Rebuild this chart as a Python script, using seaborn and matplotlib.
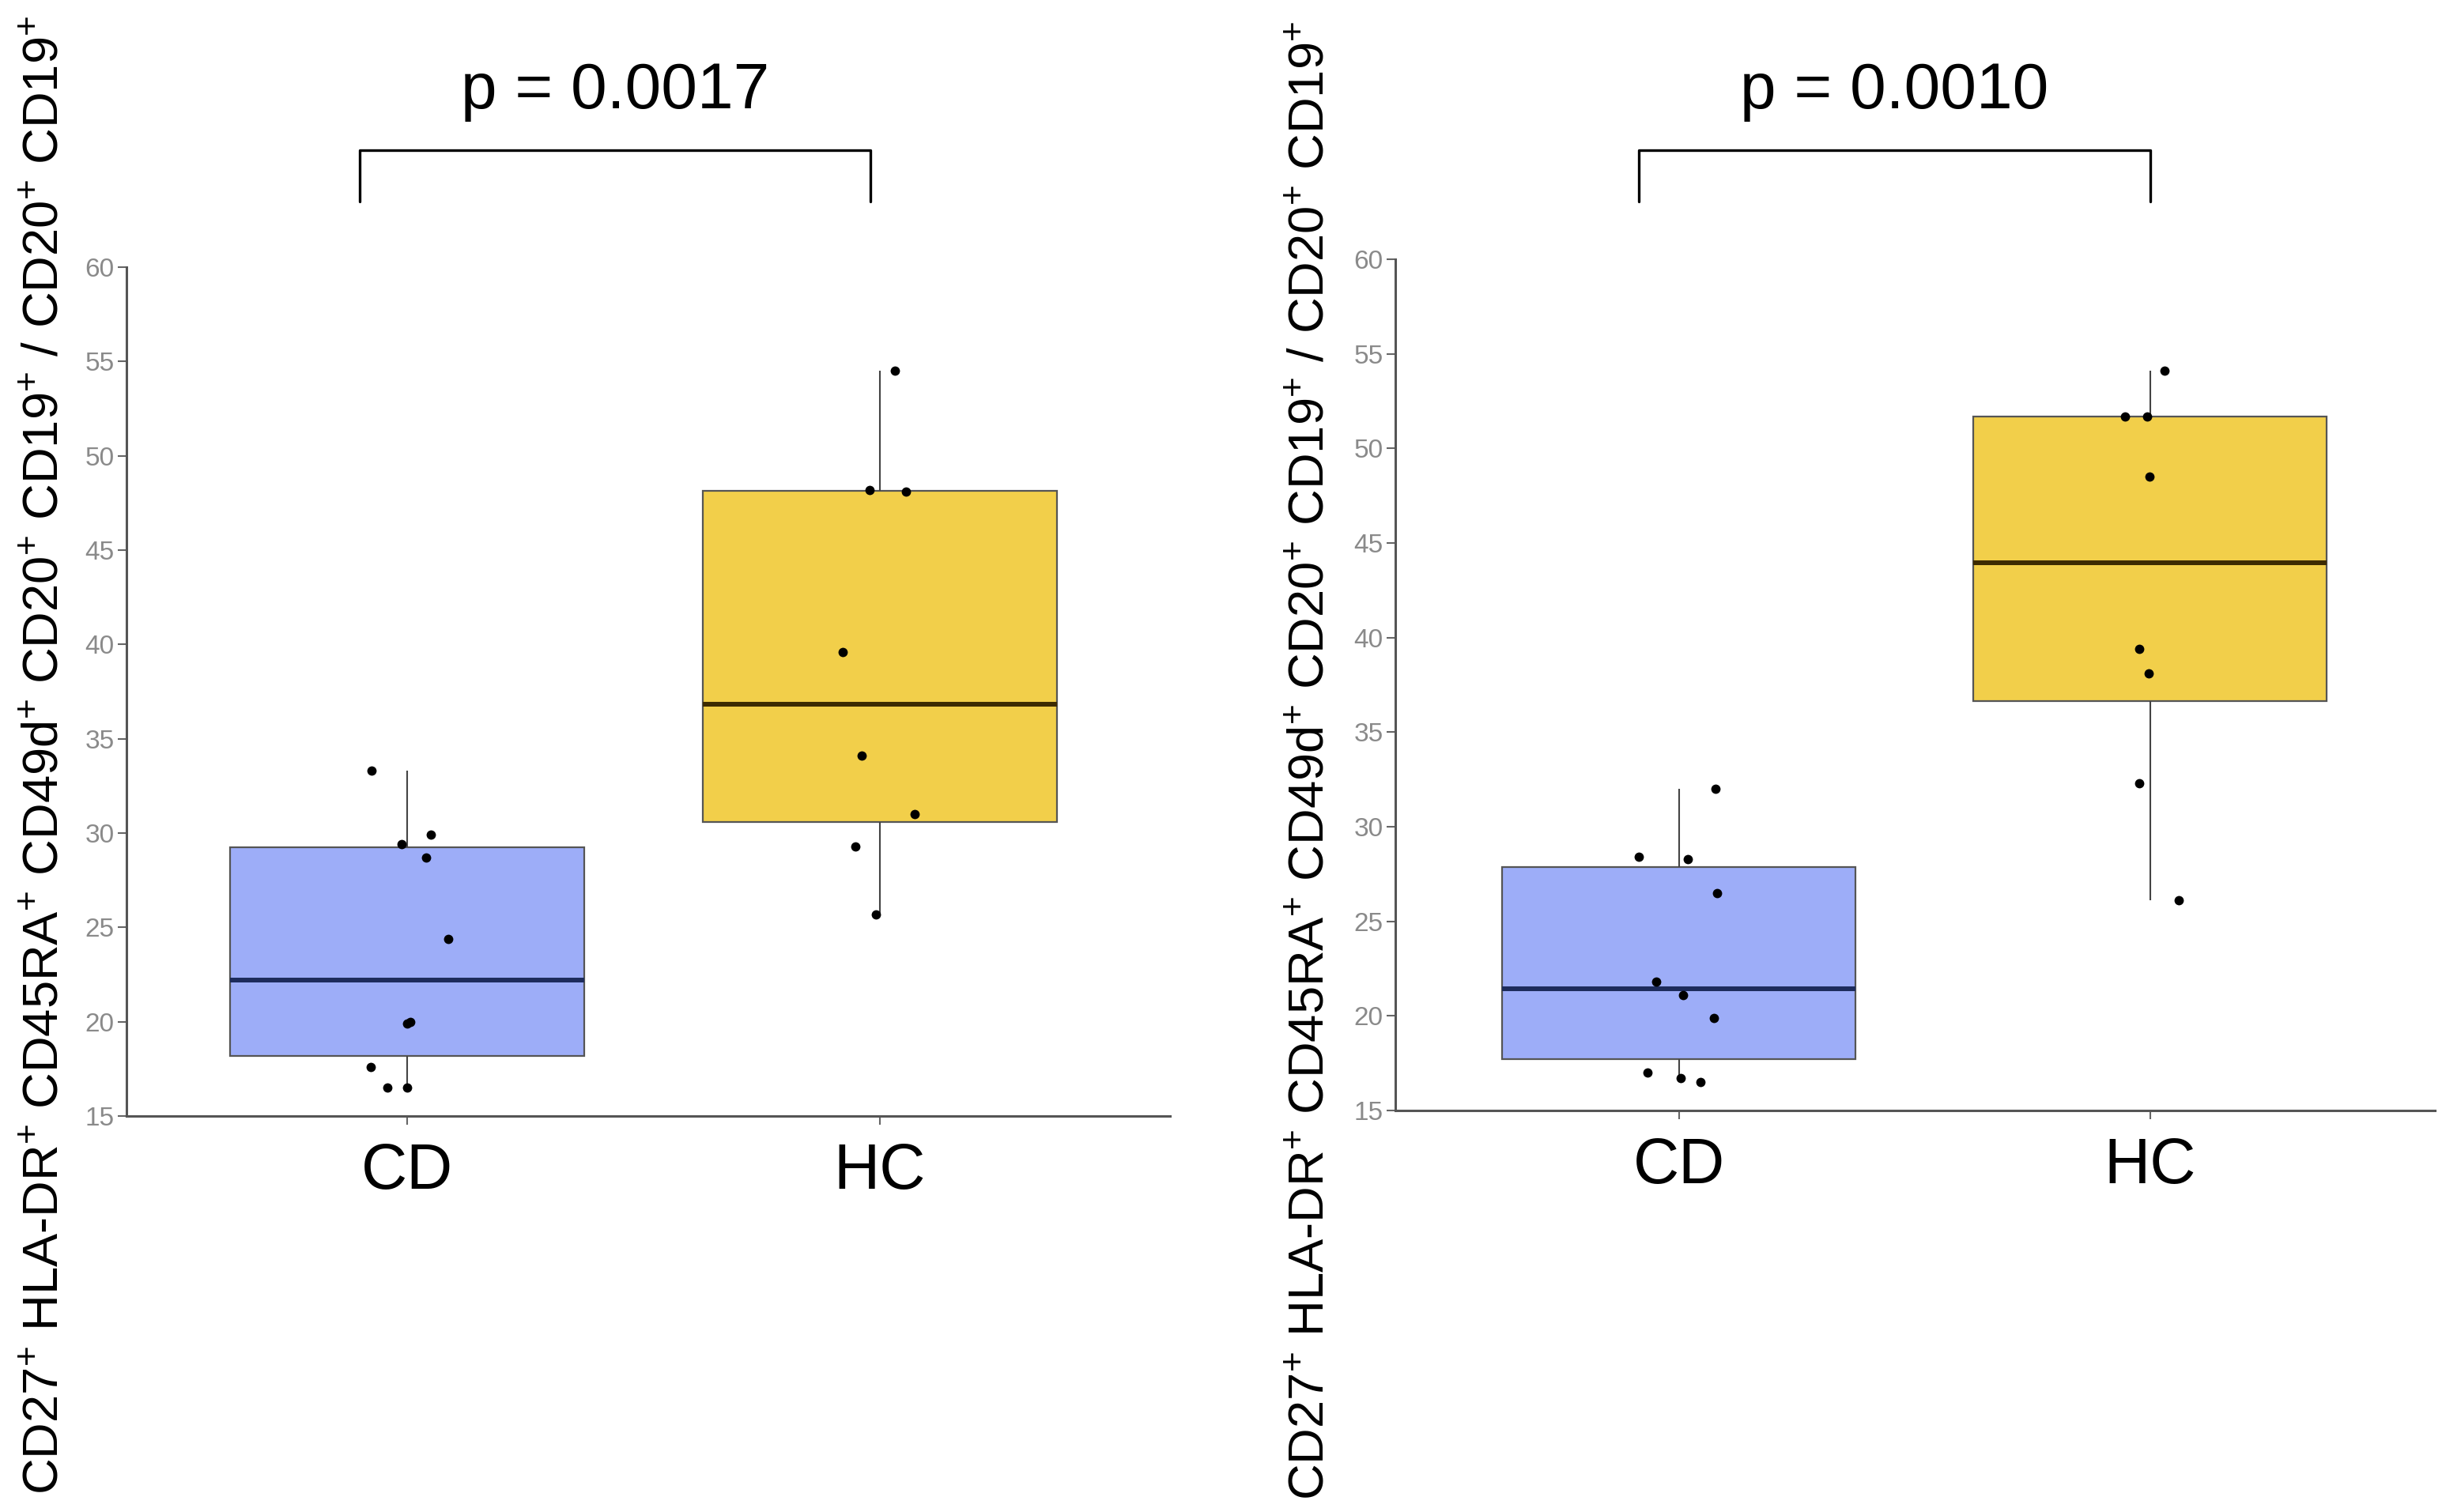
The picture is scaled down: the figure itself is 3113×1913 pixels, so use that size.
import numpy as np
import pandas as pd
import matplotlib
matplotlib.use("Agg")
import matplotlib.pyplot as plt
import matplotlib.transforms as mtransforms
import seaborn as sns

# values
groups = ["CD", "HC"]
cd_left = [33.3, 29.9, 29.4, 28.7, 24.4, 20.0, 19.9, 17.6, 16.5, 16.5]
hc_left = [54.5, 48.1, 48.2, 39.6, 34.1, 31.0, 29.3, 25.7]
cd_right = [32.0, 28.4, 28.3, 26.5, 21.8, 21.1, 19.9, 17.0, 16.7, 16.5]
hc_right = [54.1, 51.7, 51.7, 48.5, 39.4, 38.1, 32.3, 26.1]
p_values = ["p = 0.0017", "p = 0.0010"]
yticks = [15, 20, 25, 30, 35, 40, 45, 50, 55, 60]

ylabel = (r"CD27$^{+}$ HLA-DR$^{+}$ CD45RA$^{+}$ CD49d$^{+}$ CD20$^{+}$ "
          r"CD19$^{+}$ / CD20$^{+}$ CD19$^{+}$")

fills = {"CD": "#9DADF8", "HC": "#F2CF4A"}
medians = {"CD": "#1D2B5C", "HC": "#3D2B00"}

sns.set_theme(style="ticks")
plt.rcParams["font.family"] = ["Liberation Sans", "DejaVu Sans"]
plt.rcParams["mathtext.fontset"] = "custom"
plt.rcParams["mathtext.rm"] = "Liberation Sans"
plt.rcParams["mathtext.it"] = "Liberation Sans:italic"

W, H = 3113, 1913
fig = plt.figure(figsize=(W / 100, H / 100), dpi=100)
fig.patch.set_facecolor("white")

panels = [
    dict(cd=cd_left, hc=hc_left, p=p_values[0],
         rect=[160 / W, 1 - 1412 / H, 1320 / W, 1074 / H],
         xlim=(-0.594, 1.614), br=(-0.10, 0.98), lab=(57 / W, 1 - 955 / H)),
    dict(cd=cd_right, hc=hc_right, p=p_values[1],
         rect=[1765 / W, 1 - 1405 / H, 1315 / W, 1077 / H],
         xlim=(-0.602, 1.604), br=(-0.085, 1.0), lab=(1658 / W, 1 - 962 / H)),
]

np.random.seed(7)
for pn in panels:
    ax = fig.add_axes(pn["rect"])
    df = pd.DataFrame({
        "group": ["CD"] * len(pn["cd"]) + ["HC"] * len(pn["hc"]),
        "value": pn["cd"] + pn["hc"],
    })

    for g in groups:
        sub = df[df.group == g]
        sns.boxplot(data=sub, x="group", y="value", order=groups, ax=ax,
                    color=fills[g], saturation=1, width=0.75,
                    showcaps=False, showfliers=False, linewidth=1.6,
                    linecolor="#555555",
                    medianprops={"color": medians[g], "linewidth": 4.3},
                    whiskerprops={"color": "#444444", "linewidth": 1.5})

    sns.stripplot(data=df, x="group", y="value", order=groups, ax=ax,
                  color="black", size=8.5, jitter=0.09, zorder=4)

    ax.set_xlim(*pn["xlim"])
    ax.set_ylim(15, 60)
    ax.set_yticks(yticks)
    ax.set_xlabel("")
    ax.set_ylabel(ylabel, fontsize=45.5, color="black", va="center")
    ax.yaxis.set_label_coords(pn["lab"][0], pn["lab"][1], transform=fig.transFigure)

    sns.despine(ax=ax)
    for s in ["left", "bottom"]:
        ax.spines[s].set_color("#555555")
        ax.spines[s].set_linewidth(2.2)
    ax.tick_params(axis="y", labelsize=24, labelcolor="#8A8A8A", color="#666666",
                   length=8, width=1.5, pad=3)
    ax.tick_params(axis="x", labelsize=58, labelcolor="black", color="#666666",
                   length=8, width=1.5, pad=16)

    # significance bracket
    tr = mtransforms.blended_transform_factory(ax.transData, fig.transFigure)
    x0, x1 = pn["br"]
    ax.plot([x0, x0, x1, x1], [1 - 255 / H, 1 - 190 / H, 1 - 190 / H, 1 - 255 / H],
            color="black", lw=2.4, transform=tr, clip_on=False)
    ax.text((x0 + x1) / 2, 1 - 116 / H, pn["p"], transform=tr, ha="center",
            va="center", fontsize=59, color="black")

fig.savefig("out.png", dpi=100, facecolor="white")
